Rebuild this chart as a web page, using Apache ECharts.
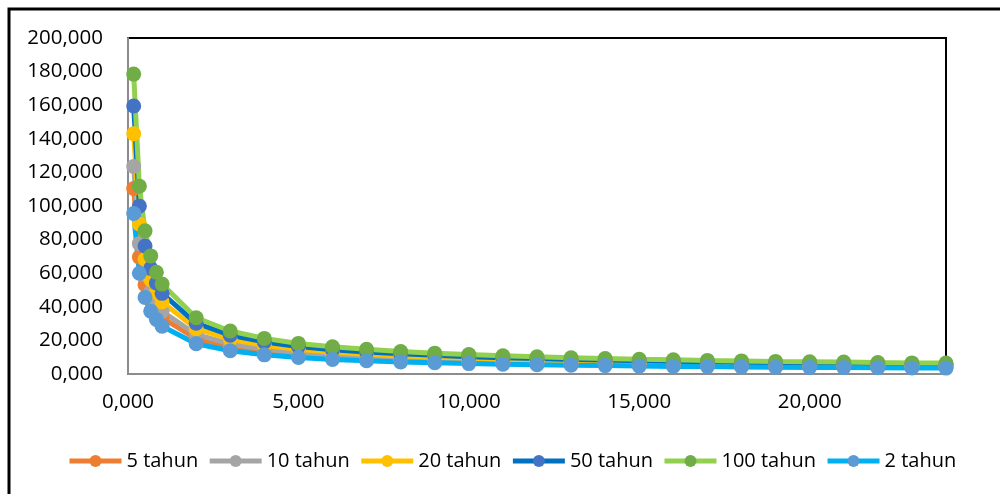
<!DOCTYPE html>
<html>
<head>
<meta charset="utf-8">
<script src="https://cdn.jsdelivr.net/npm/echarts@6/dist/echarts.min.js"></script>
<style>
  html, body { margin: 0; padding: 0; background: #fff; }
  #chart { width: 1000px; height: 494px; }
</style>
</head>
<body>
<div id="chart"></div>
<script>
// Durasi hujan (jam): 10, 20, 30, 40, 50 menit, lalu 1 s.d. 24 jam
const durasi = [0.1667, 0.3333, 0.5, 0.6667, 0.8333, 1, 2, 3, 4, 5, 6, 7, 8, 9, 10, 11, 12,
  13, 14, 15, 16, 17, 18, 19, 20, 21, 22, 23, 24];

// Intensitas hujan (mm/jam) per kala ulang
const kala5 = [110.4, 69.6, 53.1, 43.8, 37.8, 33.4, 21.1, 16.1, 13.3, 11.4, 10.1, 9.1, 8.4, 7.7,
  7.2, 6.8, 6.4, 6.1, 5.8, 5.5, 5.3, 5.1, 4.9, 4.7, 4.5, 4.4, 4.3, 4.1, 4.0];
const kala10 = [123.5, 77.6, 59.2, 48.8, 42.1, 37.3, 23.5, 17.9, 14.8, 12.7, 11.3, 10.2, 9.3, 8.6,
  8.0, 7.5, 7.1, 6.8, 6.4, 6.1, 5.9, 5.6, 5.4, 5.2, 5.1, 4.9, 4.7, 4.6, 4.5];
const kala20 = [143.0, 89.3, 68.2, 56.2, 48.5, 42.9, 27.0, 20.6, 17.0, 14.7, 13.0, 11.7, 10.7, 9.9,
  9.3, 8.7, 8.2, 7.8, 7.4, 7.1, 6.8, 6.5, 6.2, 6.0, 5.8, 5.6, 5.5, 5.3, 5.2];
const kala50 = [159.5, 99.9, 76.2, 62.9, 54.2, 48.0, 30.2, 23.1, 19.1, 16.4, 14.5, 13.1, 12.0, 11.1,
  10.3, 9.7, 9.2, 8.7, 8.3, 7.9, 7.6, 7.3, 7.0, 6.7, 6.5, 6.3, 6.1, 5.9, 5.8];
const kala100 = [178.5, 111.8, 85.2, 70.3, 60.6, 53.5, 33.5, 25.6, 21.2, 18.2, 16.2, 14.7, 13.4, 12.4,
  11.6, 10.8, 10.2, 9.7, 9.2, 8.8, 8.5, 8.1, 7.8, 7.5, 7.3, 7.1, 6.8, 6.6, 6.5];
const kala2 = [95.5, 60.0, 45.6, 37.4, 32.5, 28.4, 18.0, 13.8, 11.4, 9.8, 8.7, 7.9, 7.2, 6.7,
  6.2, 5.8, 5.5, 5.2, 5.0, 4.7, 4.5, 4.4, 4.2, 4.0, 3.9, 3.8, 3.7, 3.6, 3.5];

const namaSeri = ['5 tahun', '10 tahun', '20 tahun', '50 tahun', '100 tahun', '2 tahun'];
const nilaiSeri = [kala5, kala10, kala20, kala50, kala100, kala2];
const warnaGaris = ['#ED7D31', '#A5A5A5', '#FFC000', '#0070C0', '#92D050', '#00B0F0'];
const warnaTitik = ['#ED7D31', '#A5A5A5', '#FFC000', '#4472C4', '#70AD47', '#5B9BD5'];

const fmt = v => v.toFixed(3).replace('.', ',');
const FONT = '"Open Sans", sans-serif';

const series = namaSeri.map((nama, i) => ({
  name: nama,
  type: 'line',
  data: durasi.map((t, k) => [t, nilaiSeri[i][k]]),
  symbol: 'circle',
  symbolSize: 15,
  showAllSymbol: true,
  lineStyle: { color: warnaGaris[i], width: 5 },
  itemStyle: { color: warnaTitik[i] },
  emphasis: { disabled: true },
  animation: false
}));

const chart = echarts.init(document.getElementById('chart'), null, { renderer: 'canvas' });
chart.setOption({
  backgroundColor: '#ffffff',
  animation: false,
  grid: {
    left: 128, right: 54, top: 38, bottom: 120,
    show: true, borderColor: '#000000', borderWidth: 2, backgroundColor: 'transparent'
  },
  xAxis: {
    type: 'value', min: 0, max: 24, interval: 5,
    axisLine: { show: true, onZero: false, lineStyle: { color: '#8c8c8c', width: 2 } },
    axisTick: { show: false },
    splitLine: { show: false },
    axisLabel: {
      formatter: fmt, color: '#000', fontFamily: FONT, fontSize: 20.5,
      margin: 18, showMaxLabel: false
    }
  },
  yAxis: {
    type: 'value', min: 0, max: 200, interval: 20,
    axisLine: { show: true, lineStyle: { color: '#8c8c8c', width: 2 } },
    axisTick: { show: false },
    splitLine: { show: false },
    axisLabel: { formatter: fmt, color: '#000', fontFamily: FONT, fontSize: 20.5, margin: 25 }
  },
  legend: {
    data: namaSeri,
    left: 62, top: 446,
    itemWidth: 52, itemHeight: 15, itemGap: 9,
    lineStyle: { width: 5 },
    textStyle: { color: '#000', fontFamily: FONT, fontSize: 20 },
    selectedMode: false
  },
  graphic: [{
    type: 'rect',
    shape: { x: 9, y: 9, width: 1100, height: 600 },
    style: { fill: 'none', stroke: '#000', lineWidth: 3 },
    silent: true
  }],
  series: series
});
</script>
</body>
</html>
